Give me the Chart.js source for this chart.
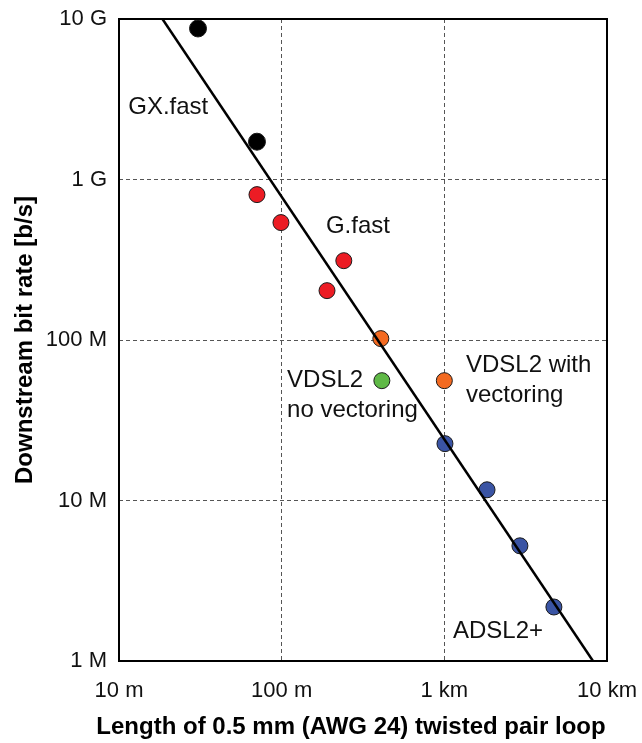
<!DOCTYPE html>
<html lang="en">
  <head>
    <meta charset="UTF-8" />
    <title>Bit rate vs loop length</title>
    <script src="https://cdn.jsdelivr.net/npm/chart.js@4.4.1/dist/chart.umd.min.js"></script>
    <style>
      html, body { margin: 0; padding: 0; background: #fff; }
    </style>
  </head>
  <body>
    <canvas id="myChart" width="642" height="743"></canvas>
    <script>
      // loop length in metres, downstream rate in b/s
      const gxfastLen = [30.6, 70.5];
      const gxfastRate = [8.73e9, 1.72e9];
      const gfastLen = [70.5, 99, 241, 190];
      const gfastRate = [8.05e8, 5.39e8, 3.12e8, 2.03e8];
      const vdslVecLen = [407, 1000];
      const vdslVecRate = [1.02e8, 5.58e7];
      const vdslNoVecLen = [413];
      const vdslNoVecRate = [5.58e7];
      const adslLen = [1009, 1830, 2915, 4716];
      const adslRate = [2.26e7, 1.166e7, 5.22e6, 2.17e6];
      const trendLen = [18.5, 8200];
      const trendRate = [1e10, 1e6];

      const xTicks = [10, 100, 1000, 10000];
      const xTickLabels = ["10 m", "100 m", "1 km", "10 km"];
      const yTicks = [1e6, 1e7, 1e8, 1e9, 1e10];
      const yTickLabels = ["1 M", "10 M", "100 M", "1 G", "10 G"];

      // text labels inside the plot, at data coords (left edge, middle)
      const noteText = ["GX.fast", "G.fast", "VDSL2", "no vectoring", "VDSL2 with", "vectoring", "ADSL2+"];
      const noteLen = [11.4, 187, 108, 108, 1358, 1358, 1130];
      const noteRate = [2.8e9, 5.08e8, 5.57e7, 3.62e7, 6.92e7, 4.5e7, 1.52e6];

      const xTitle = "Length of 0.5 mm (AWG 24) twisted pair loop";
      const yTitle = "Downstream bit rate [b/s]";

      function pts(xs, ys) {
        return xs.map((x, i) => ({ x: x, y: ys[i] }));
      }

      function dots(label, xs, ys, color, r) {
        return {
          label: label,
          data: pts(xs, ys),
          backgroundColor: color,
          borderColor: "#1a1a1a",
          borderWidth: 1,
          pointRadius: r,
          pointHoverRadius: r,
        };
      }

      const notesPlugin = {
        id: "notes",
        afterDatasetsDraw(chart) {
          const ctx = chart.ctx;
          const xs = chart.scales.x, ys = chart.scales.y;
          ctx.save();
          ctx.fillStyle = "#111";
          ctx.font = "24px 'Liberation Sans', Arial, sans-serif";
          ctx.textAlign = "left";
          ctx.textBaseline = "middle";
          noteText.forEach((t, i) => {
            ctx.fillText(t, xs.getPixelForValue(noteLen[i]), ys.getPixelForValue(noteRate[i]));
          });
          ctx.restore();
        },
        afterDraw(chart) {
          const a = chart.chartArea;
          const ctx = chart.ctx;
          ctx.save();
          // full frame round the plot
          ctx.setLineDash([]);
          ctx.lineWidth = 2;
          ctx.strokeStyle = "#000";
          ctx.strokeRect(a.left, a.top, a.right - a.left, a.bottom - a.top);
          // x title is wider than the plot, so draw it here (the built-in one gets squeezed)
          ctx.fillStyle = "#000";
          ctx.font = "bold 24px 'Liberation Sans', Arial, sans-serif";
          ctx.textAlign = "center";
          ctx.textBaseline = "middle";
          ctx.fillText(xTitle, 351, 727);
          ctx.restore();
        },
      };

      const gridOpts = {
        color: "#555",
        lineWidth: 1,
        drawTicks: false,
      };

      const ctx = document.getElementById("myChart").getContext("2d");
      const myChart = new Chart(ctx, {
        type: "scatter",
        data: {
          datasets: [
            {
              type: "line",
              label: "trend",
              data: pts(trendLen, trendRate),
              borderColor: "#000",
              borderWidth: 2.5,
              pointRadius: 0,
              fill: false,
              showLine: true,
            },
            dots("GX.fast", gxfastLen, gxfastRate, "#000", 8.5),
            dots("G.fast", gfastLen, gfastRate, "#ec1c24", 8),
            dots("VDSL2 with vectoring", vdslVecLen, vdslVecRate, "#f36a21", 8),
            dots("VDSL2 no vectoring", vdslNoVecLen, vdslNoVecRate, "#5fb946", 8),
            dots("ADSL2+", adslLen, adslRate, "#3a54a4", 8),
          ],
        },
        plugins: [notesPlugin],
        options: {
          responsive: false,
          animation: false,
          layout: { autoPadding: false, padding: { top: 19, right: 35, left: 0, bottom: 0 } },
          plugins: { legend: { display: false }, tooltip: { enabled: false } },
          scales: {
            x: {
              type: "logarithmic",
              min: 10,
              max: 10000,
              afterFit(s) {
                s.height = 82;
                s.paddingLeft = 0;
                s.paddingRight = 0;
              },
              afterBuildTicks(s) { s.ticks = xTicks.map((v) => ({ value: v })); },
              grid: gridOpts,
              border: { display: false, dash: [4, 3] },
              ticks: {
                padding: 17,
                color: "#111",
                font: { family: "'Liberation Sans', Arial, sans-serif", size: 22 },
                autoSkip: false,
                maxRotation: 0,
                callback: (v) => xTickLabels[xTicks.indexOf(v)],
              },
            },
            y: {
              type: "logarithmic",
              min: 1e6,
              max: 1e10,
              afterFit(s) {
                s.width = 119;
                s.paddingTop = 0;
                s.paddingBottom = 0;
              },
              afterBuildTicks(s) { s.ticks = yTicks.map((v) => ({ value: v })); },
              grid: gridOpts,
              border: { display: false, dash: [4, 3] },
              ticks: {
                padding: 12,
                color: "#111",
                font: { family: "'Liberation Sans', Arial, sans-serif", size: 22 },
                autoSkip: false,
                callback: (v) => yTickLabels[yTicks.indexOf(v)],
              },
              title: {
                display: true,
                text: yTitle,
                color: "#000",
                font: { family: "'Liberation Sans', Arial, sans-serif", size: 24, weight: "bold" },
                padding: { top: 11, bottom: 0 },
              },
            },
          },
        },
      });
    </script>
  </body>
</html>
